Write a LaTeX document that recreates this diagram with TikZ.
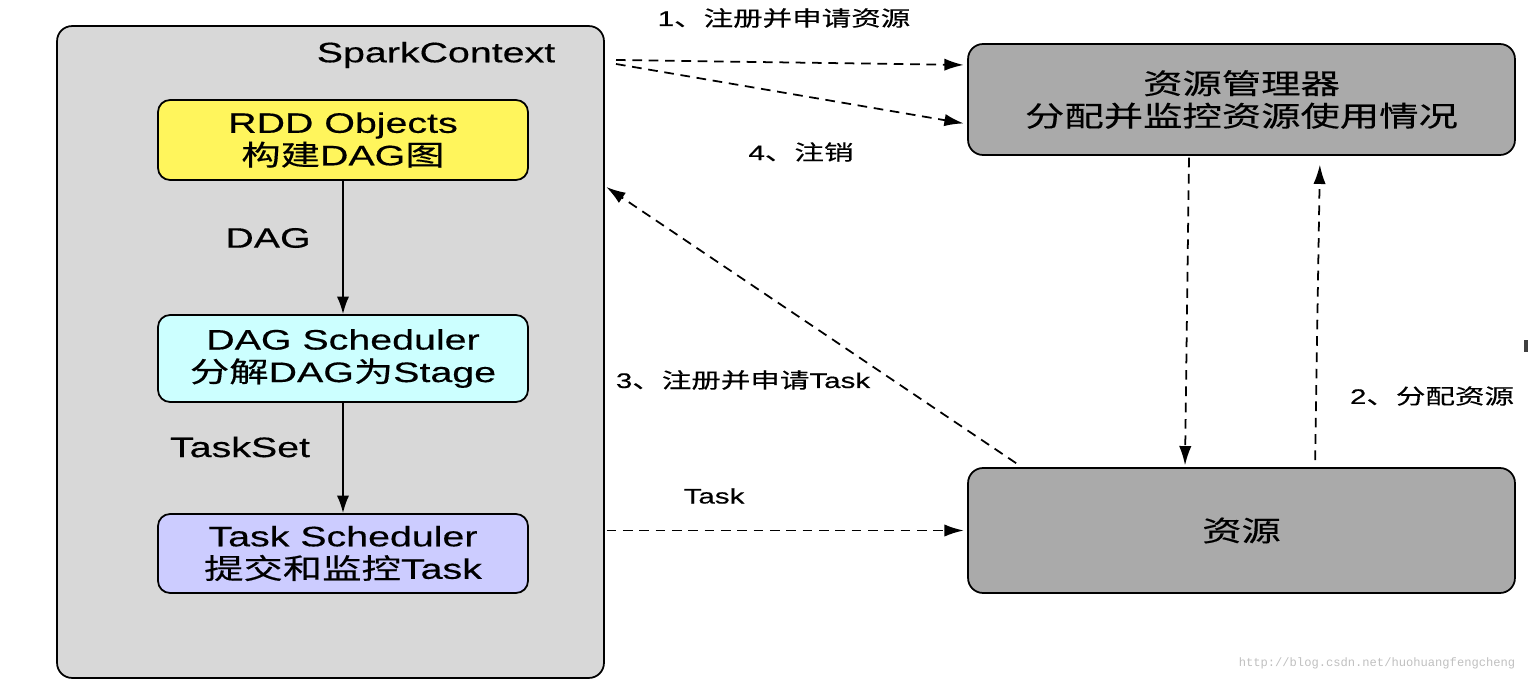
\documentclass[tikz,border=0pt]{standalone}
\usepackage{fontspec}
\setmainfont[FakeStretch=1.4, FakeBold=0.4]{Liberation Sans}
\newfontfamily\cjk[FakeStretch=1.4, FakeBold=0.4]{Noto Sans CJK SC}
\newfontfamily\wmfont{Liberation Mono}
\newcommand{\zh}[1]{{\cjk #1}}
\usetikzlibrary{arrows.meta}
\definecolor{ctxgray}{HTML}{D8D8D8}
\definecolor{resgray}{HTML}{AAAAAA}
\definecolor{rddyellow}{HTML}{FFF55C}
\definecolor{dagcyan}{HTML}{CCFFFF}
\definecolor{tasklilac}{HTML}{CCCCFF}
\tikzset{
  box/.style={draw, line width=1pt, rounded corners=0.24cm, align=center,
    minimum width=7.4cm, font=\fontsize{16}{18.5}\selectfont},
  bigbox/.style={box, rounded corners=0.3cm, fill=resgray, minimum width=10.94cm},
  lab/.style={font=\fontsize{12}{14}\selectfont},
  flow/.style={-{Latex[length=11pt,width=7pt]}, line width=1pt, dash pattern=on 5.5pt off 3.8pt},
  pipe/.style={-{Latex[length=10pt,width=7pt]}, line width=1.1pt}
}

\begin{document}
\begin{tikzpicture}[x=0.02cm, y=-0.02cm]
  \useasboundingbox (0,0) rectangle (1528,686);
  \node[box, fill=ctxgray, minimum width=10.94cm, minimum height=13.04cm, rounded corners=0.3cm] (spark) at (330.5,352) {};
  \node[font=\fontsize{16}{18.5}\selectfont] (sparklab) at (436,55) {SparkContext};
  \node[box, fill=rddyellow, minimum height=1.6cm] (rdd) at (343,140) {RDD Objects\\\zh{构建}DAG\zh{图}};
  \node[box, fill=dagcyan, minimum height=1.74cm] (dagsch) at (343,358.5) {DAG Scheduler\\\zh{分解}DAG\zh{为}Stage};
  \node[box, fill=tasklilac, minimum height=1.58cm] (tasksch) at (343,553.5) {Task Scheduler\\\zh{提交和监控}Task};
  \draw[pipe] (rdd) -- (dagsch);
  \draw[pipe] (dagsch) -- (tasksch);
  \node[font=\fontsize{16}{18.5}\selectfont] (daglab) at (268,238) {DAG};
  \node[font=\fontsize{16}{18.5}\selectfont] (setlab) at (240,447) {TaskSet};

  \node[bigbox, minimum height=2.22cm] (rm) at (1241.5,99.5) {\zh{资源管理器}\\\zh{分配并监控资源使用情况}};
  \node[bigbox, minimum height=2.5cm] (res) at (1241.5,530.5) {\zh{资源}};

  \coordinate (regout) at (616,60);
  \coordinate (offout) at (616,64);
  \draw[flow, shorten >=2pt] (regout) -- (rm.west |- 0,65);
  \draw[flow, shorten >=2pt] (offout) -- (rm.west |- 0,124);
  \draw[flow, shorten <=4pt, shorten >=1pt] (res.north -| 1022,0) -- (spark.east |- 0,186);
  \draw[flow, shorten <=1pt, shorten >=1pt] (rm.south -| 1189,0) -- (res.north -| 1185,0);
  \draw[flow, shorten <=4pt, shorten >=5pt] (res.north -| 1315,0) -- (rm.south -| 1320,0);
  \draw[flow, shorten <=1pt, shorten >=2pt] (spark.east |- res.west) -- (res.west);

  \node[lab] (l1) at (784,18) {1\zh{、注册并申请资源}};
  \node[lab] (l4) at (801,152) {4\zh{、注销}};
  \node[lab] (l3) at (743,380) {3\zh{、注册并申请}Task};
  \node[lab] (l2) at (1432,396) {2\zh{、分配资源}};
  \node[lab] (lt) at (714,496) {Task};

  \node[font=\wmfont\fontsize{6.9}{8}\selectfont, text=black!25] (wm) at (1377,663) {http://blog.csdn.net/huohuangfengcheng};
  \fill[black!75] (1524,340) rectangle (1528,352);
\end{tikzpicture}
\end{document}
